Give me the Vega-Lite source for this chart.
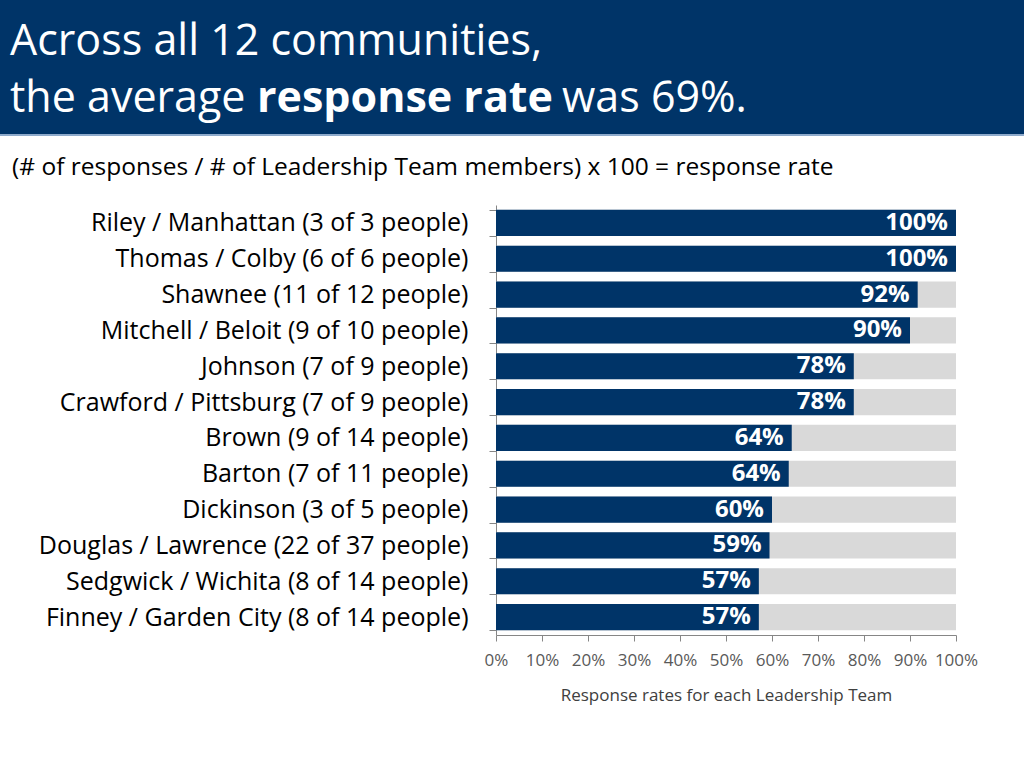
{
  "$schema": "https://vega.github.io/schema/vega-lite/v6.json",
  "autosize": "none",
  "padding": {"left": 496, "top": 205, "right": 68, "bottom": 133},
  "width": 460,
  "height": 430,
  "background": "white",
  "config": {"font": "Open Sans", "view": {"stroke": null}},
  "datasets": {
    "rates": [
      {"team": "Riley / Manhattan (3 of 3 people)", "rate": 1.0},
      {"team": "Thomas / Colby (6 of 6 people)", "rate": 1.0},
      {"team": "Shawnee (11 of 12 people)", "rate": 0.9167},
      {"team": "Mitchell / Beloit (9 of 10 people)", "rate": 0.9},
      {"team": "Johnson (7 of 9 people)", "rate": 0.7778},
      {"team": "Crawford / Pittsburg (7 of 9 people)", "rate": 0.7778},
      {"team": "Brown (9 of 14 people)", "rate": 0.6429},
      {"team": "Barton (7 of 11 people)", "rate": 0.6364},
      {"team": "Dickinson (3 of 5 people)", "rate": 0.6},
      {"team": "Douglas / Lawrence (22 of 37 people)", "rate": 0.5946},
      {"team": "Sedgwick / Wichita (8 of 14 people)", "rate": 0.5714},
      {"team": "Finney / Garden City (8 of 14 people)", "rate": 0.5714}
    ],
    "header": [{"k": 1}]
  },
  "layer": [
    {
      "data": {"name": "header"},
      "layer": [
        {
          "mark": {"type": "rect", "color": "#003468"},
          "encoding": {"x": {"value": -496}, "x2": {"value": 528}, "y": {"value": -205}, "y2": {"value": -69}}
        },
        {
          "mark": {"type": "rule", "color": "#8eaacb", "strokeWidth": 2},
          "encoding": {"x": {"value": -496}, "x2": {"value": 528}, "y": {"value": -70}}
        },
        {
          "mark": {"type": "text", "text": "Across all 12 communities,", "align": "left", "baseline": "alphabetic", "fontSize": 43, "color": "white"},
          "encoding": {"x": {"value": -486}, "y": {"value": -150}}
        },
        {
          "mark": {"type": "text", "text": "the average", "align": "left", "baseline": "alphabetic", "fontSize": 43, "color": "white"},
          "encoding": {"x": {"value": -486}, "y": {"value": -93}}
        },
        {
          "mark": {"type": "text", "text": "response rate", "align": "left", "baseline": "alphabetic", "fontSize": 43, "fontWeight": "bold", "color": "white"},
          "encoding": {"x": {"value": -239}, "y": {"value": -93}}
        },
        {
          "mark": {"type": "text", "text": "was 69%.", "align": "left", "baseline": "alphabetic", "fontSize": 43, "color": "white"},
          "encoding": {"x": {"value": 66}, "y": {"value": -93}}
        },
        {
          "mark": {"type": "text", "text": "(# of responses / # of Leadership Team members) x 100 = response rate", "align": "left", "baseline": "middle", "fontSize": 24.5, "color": "black"},
          "encoding": {"x": {"value": -484}, "y": {"value": -37}}
        }
      ]
    },
    {
      "data": {"name": "rates"},
      "encoding": {
        "y": {
          "field": "team",
          "type": "nominal",
          "sort": null,
          "scale": {"paddingInner": 0.27, "paddingOuter": 0.135},
          "axis": {
            "title": null,
            "domainColor": "#868686",
            "tickColor": "#868686",
            "tickSize": 7,
            "tickBand": "extent",
            "labelPadding": 21,
            "labelFontSize": 25,
            "labelColor": "black",
            "labelLimit": 600
          }
        }
      },
      "layer": [
        {
          "mark": {"type": "bar", "color": "#d9d9d9"},
          "encoding": {
            "x": {
              "datum": 1,
              "type": "quantitative",
              "scale": {"domain": [0, 1]},
              "axis": {
                "format": "%",
                "values": [0, 0.1, 0.2, 0.3, 0.4, 0.5, 0.6, 0.7, 0.8, 0.9, 1],
                "grid": false,
                "labelOverlap": false,
                "labelFlush": false,
                "domainColor": "#868686",
                "tickColor": "#868686",
                "tickSize": 6,
                "labelFontSize": 17,
                "labelColor": "#595959",
                "labelPadding": 11,
                "title": "Response rates for each Leadership Team",
                "titleFontSize": 17,
                "titleFontWeight": "normal",
                "titleColor": "#404040",
                "titlePadding": 19
              }
            }
          }
        },
        {
          "mark": {"type": "bar", "color": "#003468"},
          "encoding": {
            "x": {"field": "rate", "type": "quantitative", "title": "Response rates for each Leadership Team"}
          }
        },
        {
          "mark": {"type": "text", "align": "right", "baseline": "middle", "dx": -8, "color": "white", "fontWeight": "bold", "fontSize": 24},
          "encoding": {
            "x": {"field": "rate", "type": "quantitative", "title": "Response rates for each Leadership Team"},
            "text": {"field": "rate", "type": "quantitative", "format": ".0%"}
          }
        }
      ]
    }
  ]
}
